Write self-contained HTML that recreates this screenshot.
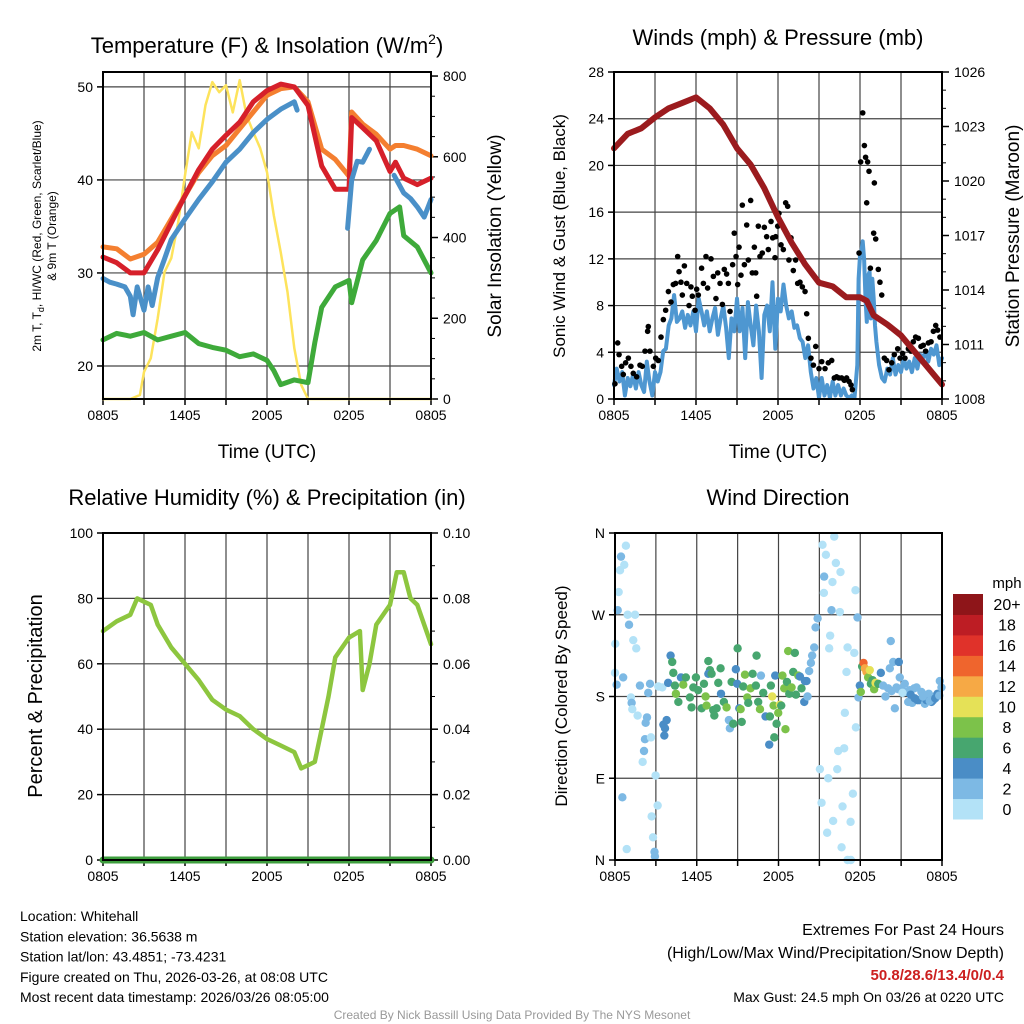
<!DOCTYPE html>
<html><head><meta charset="utf-8"><style>
html,body{margin:0;padding:0;background:#fff;width:1024px;height:1024px;overflow:hidden}
svg{display:block;font-family:"Liberation Sans",sans-serif}
</style></head><body>
<svg id="c" width="1024" height="1024" viewBox="0 0 1024 1024"></svg>
<script>
// ---------- DATA ----------
const xTickLabels = ["0805","1405","2005","0205","0805"];
// Panel 1
const tempHours = [0,1,2,3,4,5,6,7,8,9,10,11,12,13,14,15,16,17,18,18.2,19,20,21,21.4,22,23,24];
const tempRed =   [31.7,31.1,30.0,30.0,32.5,35.4,38.3,41.1,43.3,44.8,46.2,48.4,49.6,50.3,50.0,48.0,41.5,39.0,39.0,46.7,45.6,44.2,40.9,41.9,40.2,39.5,40.2];
const temp9m =    [32.8,32.6,31.5,32.0,33.3,35.8,38.3,40.8,42.6,43.7,45.5,47.3,49.1,49.8,50.0,48.4,43.3,42.2,40.4,47.3,46.0,44.9,43.3,43.7,43.7,43.3,42.6];
const hiwcHours = [0,0.5,1,1.6,2,2.2,2.5,3,3.3,3.6,4,4.5,5,6,7,8,9,10,11,12,13,14,14.2,null,17.9,18.2,18.6,19,19.5,null,21.3,22,22.5,23,23.5,24];
const hiwc =      [29.4,29,28.8,28.5,27.5,25.5,28.5,26.0,28.5,26.5,29.5,31.5,33.6,35.8,37.9,39.8,41.9,43.3,45.1,46.5,47.6,48.4,47.5,null,34.8,40.0,42.0,41.9,43.3,null,40.5,38.6,38.0,37.1,36.0,37.9];
const dewHours = [0,1,2,3,4,5,6,7,8,9,10,11,12,12.5,13,14,15,15.5,16,17,18,18.2,19,20,21,21.7,22,23,24];
const dewpt =    [22.8,23.5,23.2,23.6,22.8,23.2,23.6,22.4,22.0,21.7,21.0,21.3,20.6,19.5,18.0,18.5,18.2,22.5,26.3,28.5,29.2,26.8,31.4,33.5,36.4,37.1,34.0,32.8,30.0];
const solarHours = [0,2,2.7,3,3.5,4,4.5,5,5.5,6,6.5,7,7.5,8,8.5,9,9.5,10,10.5,11,11.5,12,12.5,13,13.5,14,14.5,15,24];
const solar =      [0,0,10,67,101,200,314,349,438,554,661,621,728,785,760,777,710,790,703,661,621,562,455,364,265,126,35,0,0];
// Panel 2
const windHours = [0,.2,.4,.6,.8,1,1.2,1.4,1.6,1.8,2,2.2,2.4,2.6,2.8,3,3.2,3.4,3.6,3.8,4,4.2,4.4,4.6,4.8,5,5.2,5.4,5.6,5.8,6,6.2,6.4,6.6,6.8,7,7.2,7.4,7.6,7.8,8,8.2,8.4,8.6,8.8,9,9.2,9.4,9.6,9.8,10,10.2,10.4,10.6,10.8,11,11.2,11.4,11.6,11.8,12,12.2,12.4,12.6,12.8,13,13.2,13.4,13.6,13.8,14,14.2,14.4,14.6,14.8,15,15.2,15.4,15.6,15.8,16,16.2,16.4,16.6,16.8,17,17.2,17.4,17.6,17.8,17.9,18,18.1,18.2,18.3,18.4,18.5,18.6,18.7,18.8,18.9,19,19.1,19.2,19.4,19.6,19.8,20,20.2,20.4,20.6,20.8,21,21.2,21.4,21.6,21.8,22,22.2,22.4,22.6,22.8,23,23.2,23.4,23.6,23.8,24];
const windSpeed = [1.2,2.6,1.5,2.3,0.3,1.8,1.1,2.1,0.9,2.3,1.2,0.6,3.2,1.5,0.3,2.3,1.5,2.3,4.1,4.3,6.3,6.9,8.9,6.6,6.9,7.5,6.1,7.2,6.3,7.5,5.8,8.6,7.5,6.3,7.5,5.8,6.9,7.8,5.5,6.9,8.0,6.1,3.5,6.9,5.8,8.6,5.8,7.8,3.5,8.3,6.3,4.6,8.0,5.8,1.8,7.2,8.0,5.8,10.0,4.3,8.6,7.5,9.8,8.0,6.9,7.5,6.1,6.3,5.2,4.9,3.5,4.6,2.3,0.9,1.8,0.1,1.8,0.3,1.2,0.1,1.5,0.3,1.2,0.3,0.9,0.3,0.1,0.3,0.1,2.9,10.3,12.3,12.6,13.5,12.0,8.6,6.6,10.6,10.9,6.9,10.3,8.6,6.3,4.9,2.9,1.8,1.5,2.6,2.1,3.5,2.1,2.9,2.3,3.5,2.6,3.2,2.3,3.5,2.6,3.8,3.5,4.1,3.2,4.3,3.8,4.6,2.9,3.5];
const gustHours = [0.07,.27,.37,.56,.68,.85,1.05,1.24,1.41,1.66,1.9,2.07,2.27,2.46,2.51,2.63,2.88,3.05,3.24,3.44,3.61,3.78,3.98,4.17,4.34,4.51,4.66,4.76,4.9,5.0,5.15,5.32,5.49,5.63,5.73,5.93,6.05,6.17,6.41,6.54,6.73,6.85,7.1,7.27,7.46,7.59,7.76,7.93,8.07,8.24,8.37,8.49,8.68,8.8,8.93,9.05,9.15,9.29,9.39,9.54,9.71,9.83,10.0,10.12,10.27,10.37,10.44,10.56,10.68,10.85,11.0,11.17,11.29,11.49,11.61,11.78,11.83,11.98,12.07,12.22,12.39,12.56,12.71,12.8,12.95,13.12,13.29,13.44,13.61,13.78,13.98,14.1,14.22,14.41,14.59,14.76,15.0,15.2,15.44,15.68,15.93,16.12,16.29,16.46,16.66,16.85,17.02,17.2,17.34,17.44,17.93,18.05,18.2,18.32,18.41,18.56,18.66,18.49,19.05,19.0,19.15,18.76,19.34,19.46,19.59,19.78,19.95,20.12,20.32,20.51,20.76,20.93,21.12,21.29,21.54,21.73,21.9,22.07,22.27,22.46,22.63,22.8,23.0,23.2,23.37,23.54,23.68,23.85];
const gustSpeed = [1.3,4.8,3.8,2.8,2.1,3.1,3.5,2.8,2.2,1.9,2.9,2.8,4.1,5.8,6.2,4.1,2.8,3.5,3.3,5.3,6.8,7.6,9.2,8.3,9.8,9.9,12.2,10.9,10.0,8.9,11.4,9.9,8.0,9.6,8.8,7.6,9.4,8.9,11.2,9.9,12.2,9.5,12.0,10.5,8.6,10.8,9.9,8.1,11.1,10.7,9.9,7.5,11.5,14.2,12.2,9.8,13.0,10.6,16.6,11.5,14.9,11.9,17.0,10.8,13.0,10.8,8.8,14.8,12.2,12.5,14.7,13.9,12.8,15.2,13.8,12.1,13.9,14.8,15.9,13.2,12.8,16.8,16.5,11.9,13.8,11.0,11.9,9.9,10.0,9.6,9.2,7.3,5.2,3.5,2.9,4.5,2.6,3.2,2.6,3.1,3.3,1.8,1.9,1.8,1.8,1.6,1.8,1.5,1.2,0.8,12.5,20.3,24.5,21.7,20.7,20.3,19.5,16.8,18.5,14.2,13.7,11.2,11.1,10.0,8.9,3.5,3.3,2.5,3.1,3.8,4.3,3.5,3.9,3.5,4.3,4.1,4.9,5.3,5.2,4.5,4.6,4.1,4.8,4.9,5.8,6.3,5.9,5.3];
const presHours = [0,1,2,3,4,5,6,7,8,9,10,11,12,13,14,15,16,17,18,18.5,19,20,21,22,23,24];
const pressure =  [1021.8,1022.6,1022.9,1023.5,1024.0,1024.3,1024.6,1024.0,1023.1,1021.8,1020.9,1019.6,1018.0,1016.6,1015.4,1014.4,1014.2,1013.6,1013.6,1013.4,1012.6,1012.1,1011.5,1010.6,1009.7,1008.8];
// Panel 3
const rhHours = [0,1,2,2.5,3,3.5,4,5,6,7,8,9,10,11,12,13,14,14.5,15,15.5,16,16.5,17,18,18.8,19,19.5,20,21,21.5,22,22.5,23,24];
const rh =      [70,73,75,80,79,78,72,65,60,55,49,46,44,40,37,35,33,28,29,30,40,50,62,68,70,52,60,72,78,88,88,80,78,66];
const precipHours = [0,24];
const precip = [0,0];
// Panel 4
const dirHours = [0.8,0.44,0.68,0.37,0.27,0.2,0.93,1.47,1.03,1.34,1.56,0.02,0,0.12,0.6,1.17,1.22,1.27,1.66,1.83,2.35,2.25,2.2,2.13,2.03,2.64,2.44,2.57,2.98,3.13,2.69,2.79,2.9,2.93,0.54,0.86,3.18,3.47,3.55,3.79,3.67,3.62,3.9,4.08,4.2,4.28,4.4,4.47,4.65,4.84,5.01,5.2,5.5,5.62,5.75,5.94,6.1,6.36,6.53,6.65,6.72,6.85,6.97,6.85,7.09,7.21,7.29,7.46,7.58,7.75,7.78,7.99,8.19,8.36,8.43,8.68,8.56,8.87,9.0,8.97,9.12,9.22,9.3,9.41,9.54,9.71,9.78,9.95,10.1,10.34,10.39,10.51,10.64,10.71,10.88,11.05,11.37,11.44,11.54,11.64,11.69,11.32,11.76,11.86,11.98,12.1,12.2,12.29,12.42,12.51,12.62,12.71,12.79,12.96,13.08,13.2,13.28,13.45,13.57,13.69,13.89,13.94,14.06,14.13,14.25,14.38,14.47,14.62,14.72,14.87,15.04,15.16,15.23,15.35,15.48,15.33,15.65,15.57,15.79,15.72,15.89,16.01,15.96,16.09,16.21,16.31,16.38,16.5,16.55,16.7,16.82,16.99,16.87,17.07,16.63,17.07,17.31,17.29,17.46,17.56,17.65,17.68,17.8,17.87,17.97,18.04,18.14,18.24,18.34,18.46,18.58,18.7,18.78,18.9,19.02,19.12,19.32,19.51,19.68,19.85,20.05,20.17,20.24,20.42,20.54,20.66,20.83,20.9,21.03,21.27,21.52,21.64,21.81,21.96,22.13,22.33,22.49,22.74,22.86,23.03,23.23,23.35,23.47,23.67,23.84,23.96,21.4,21.7,22.0,22.2,22.6,23.1,23.5,23.8,20.3,20.8,21.1];
const dirDeg = [346,334,325,319,295,275,270,270,259,242,233,238,206,193,201,179,173,166,159,192,157,151,133,120,108,135,184,194,93,60,48,25,9,4,69,12,191,190,149,154,145,137,195,225,218,206,192,183,174,201,193,201,179,168,190,201,187,167,194,180,170,219,209,205,205,165,159,167,195,211,183,174,168,154,145,150,196,210,233,194,167,166,152,191,204,179,173,189,205,192,225,174,166,203,184,158,158,192,180,170,135,127,203,150,162,171,170,203,189,144,196,230,183,190,207,228,182,203,202,189,174,197,197,180,208,217,225,234,256,266,100,63,347,312,336,294,90,30,247,233,275,43,306,356,327,100,120,273,317,59,123,207,162,234,14,0,0,42,73,228,297,146,267,179,192,185,213,217,211,207,201,209,194,198,188,195,194,206,192,180,189,211,241,218,167,190,218,201,189,194,174,187,173,189,190,176,185,172,176,183,174,176,180,183,197,190,185,182,178,176,180,175,178,181,186,188,184];
const dirSpeed = [0,2,0,0,0,2,0,0,2,0,0,0,0,2,2,0,2,0,0,2,2,2,2,2,0,0,2,2,0,0,0,0,2,2,2,0,0,0,4,4,4,4,4,4,6,6,6,8,6,4,8,6,6,6,6,6,6,6,6,8,8,6,6,4,6,6,6,6,6,6,4,6,8,2,2,6,6,4,6,4,4,8,6,6,8,8,6,8,6,6,6,6,8,2,6,4,6,6,10,8,6,4,4,6,8,10,6,8,8,8,6,8,6,8,6,6,6,8,4,6,4,4,4,2,2,2,2,2,2,2,0,0,0,2,0,0,0,0,0,0,2,0,0,0,0,0,0,0,0,0,0,0,0,0,0,0,0,0,0,0,0,0,2,2,4,8,6,14,12,12,8,10,6,6,8,10,6,4,2,2,2,2,2,2,2,2,4,2,2,2,2,2,2,2,2,4,2,2,4,2,4,4,2,4,2,2,2,4,4,4,2,2,4,2,2,2];
const speedBins = ["0","2","4","6","8","10","12","14","16","18","20+"];
const speedColors = ["#b3e2f7","#7db9e4","#4a8dc6","#47a66f","#7cc24a","#e5e157","#f6a945","#ef652d","#e0322a","#bd1d24","#8e1519"];

// ---------- DRAW ----------
const NS="http://www.w3.org/2000/svg";
const svg=document.getElementById('c');
function el(tag,attrs,parent,text){const e=document.createElementNS(NS,tag);for(const k in attrs)e.setAttribute(k,attrs[k]);if(text!==undefined)e.textContent=text;(parent||svg).appendChild(e);return e;}
function lin(d0,d1,r0,r1){return v=>r0+(v-d0)/(d1-d0)*(r1-r0);}
function txt(x,y,s,size,opts,parent){const o=Object.assign({x:x,y:y,'font-size':size,fill:'#000'},opts||{});return el('text',o,parent,s);}
function pathD(xs,ys,sx,sy){let d='',pen=false;for(let i=0;i<xs.length;i++){if(xs[i]===null||ys[i]===null){pen=false;continue;}d+=(pen?'L':'M')+sx(xs[i]).toFixed(1)+','+sy(ys[i]).toFixed(1);pen=true;}return d;}

function panel(name,X0,X1,Y0,Y1,leftTicks,leftLabels,lsy,rightTicks,rightLabels,rsy,rightMinor){
  const g=el('g',{},svg);
  
  
  const sx=lin(0,24,X0,X1);
  const grid=el('g',{stroke:'#444','stroke-width':1.2},g);
  
  
  for(let h=3;h<24;h+=3)el('line',{x1:sx(h),x2:sx(h),y1:Y0,y2:Y1},grid);
  leftTicks.forEach(v=>{const y=lsy(v);if(y>Y0+1&&y<Y1-1)el('line',{x1:X0,x2:X1,y1:y,y2:y},grid);});
  // x ticks
  const xa=el('g',{},g);
  
  
  for(let h=0;h<=24;h+=3)el('line',{x1:sx(h),x2:sx(h),y1:Y1,y2:Y1+6,stroke:'#000','stroke-width':1.5},xa);
  xTickLabels.forEach((s,i)=>txt(sx(i*6),Y1+21,s,14,{'text-anchor':'middle'},xa));
  const ya=el('g',{},g);
  
  
  leftTicks.forEach((v,i)=>{el('line',{x1:X0-6,x2:X0,y1:lsy(v),y2:lsy(v),stroke:'#000','stroke-width':1.5},ya);txt(X0-10,lsy(v)+5,leftLabels[i],14,{'text-anchor':'end'},ya);});
  if(rightTicks){const ra=el('g',{},g);
    
    
    (rightMinor||[]).forEach(v=>el('line',{x1:X1,x2:X1+4,y1:rsy(v),y2:rsy(v),stroke:'#000','stroke-width':1},ra));
    rightTicks.forEach((v,i)=>{el('line',{x1:X1,x2:X1+7,y1:rsy(v),y2:rsy(v),stroke:'#000','stroke-width':1.5},ra);txt(X1+12,rsy(v)+5,rightLabels[i],14,{'text-anchor':'start'},ra);});}
  return {g,sx};
}
function frame(g,X0,X1,Y0,Y1){const f=el('rect',{x:X0,y:Y0,width:X1-X0,height:Y1-Y0,fill:'none',stroke:'#000','stroke-width':2},g);}
function series(g,name,xs,ys,sx,sy,color,w){const p=el('path',{d:pathD(xs,ys,sx,sy),fill:'none',stroke:color,'stroke-width':w,'stroke-linejoin':'round','stroke-linecap':'round'},g);return p;}
function rotLabel(x,y,s,size,name){const t=txt(x,y,s,size,{'text-anchor':'middle',transform:'rotate(-90 '+x+' '+y+')'});return t;}
function title(x,y,s,name,size){const t=txt(x,y,s,size||22,{'text-anchor':'middle'});return t;}

// Panel 1
{const X0=103,X1=431,Y0=72,Y1=399;
 const ly=lin(16.45,51.6,Y1,Y0), ry=lin(0,810,Y1,Y0);
 const minor=[];for(let v=50;v<=800;v+=50)if(v%200)minor.push(v);
 const P=panel('temperature-panel',X0,X1,Y0,Y1,[20,30,40,50],["20","30","40","50"],ly,[0,200,400,600,800],["0","200","400","600","800"],ry,minor);
 series(P.g,'solar-insolation-line',solarHours,solar,P.sx,ry,'#fde35c',2.5);
 series(P.g,'temp-9m-line',tempHours,temp9m,P.sx,ly,'#f47f30',5);
 series(P.g,'temp-2m-line',tempHours,tempRed,P.sx,ly,'#d6202a',5);
 series(P.g,'heat-index-windchill-line',hiwcHours,hiwc,P.sx,ly,'#4a90c8',5);
 series(P.g,'dewpoint-line',dewHours,dewpt,P.sx,ly,'#3eaa3a',5);
 frame(P.g,X0,X1,Y0,Y1);
 const t=txt(267,53,'Temperature (F) & Insolation (W/m',22,{'text-anchor':'middle'});
 el('tspan',{'font-size':14,dy:-9},t,'2');el('tspan',{dy:9},t,')');
 title(267,458,'Time (UTC)','temperature-x-axis-title',19);
 const l1=txt(41,236,'',12,{'text-anchor':'middle',transform:'rotate(-90 41 236)'});
 el('tspan',{},l1,'2m T, T');el('tspan',{'font-size':9,dy:3},l1,'d');el('tspan',{dy:-3},l1,', HI/WC (Red, Green, Scarlet/Blue)');
 rotLabel(56,236,'& 9m T (Orange)',12,'temperature-y-axis-title-2');
 rotLabel(501,236,'Solar Insolation (Yellow)',19,'insolation-axis-title');
}
// Panel 2
{const X0=614,X1=942,Y0=72,Y1=399;
 const ly=lin(0,28,Y1,Y0), ry=lin(1008,1026,Y1,Y0);
 const minor=[];for(let v=1009;v<1026;v++)if((v-1008)%3)minor.push(v);
 const P=panel('wind-panel',X0,X1,Y0,Y1,[0,4,8,12,16,20,24,28],["0","4","8","12","16","20","24","28"],ly,[1008,1011,1014,1017,1020,1023,1026],["1008","1011","1014","1017","1020","1023","1026"],ry,minor);
 series(P.g,'sonic-wind-line',windHours,windSpeed,P.sx,ly,'#4e97d1',4);
 const gg=el('g',{fill:'#000'},P.g);
 gustHours.forEach((h,i)=>{const c=el('circle',{cx:P.sx(h),cy:ly(gustSpeed[i]),r:2.8},gg);});
 series(P.g,'pressure-line',presHours,pressure,P.sx,ry,'#9b1b1e',6);
 frame(P.g,X0,X1,Y0,Y1);
 title(778,45,'Winds (mph) & Pressure (mb)','wind-title');
 title(778,458,'Time (UTC)','wind-x-axis-title',19);
 rotLabel(565,236,'Sonic Wind & Gust (Blue, Black)',17,'wind-y-axis-title');
 rotLabel(1019,236,'Station Pressure (Maroon)',19,'pressure-axis-title');
}
// Panel 3
{const X0=103,X1=431,Y0=533,Y1=860;
 const ly=lin(0,100,Y1,Y0), ry=lin(0,0.1,Y1,Y0);
 const P=panel('humidity-panel',X0,X1,Y0,Y1,[0,20,40,60,80,100],["0","20","40","60","80","100"],ly,[0,0.02,0.04,0.06,0.08,0.1],["0.00","0.02","0.04","0.06","0.08","0.10"],ry,[0.01,0.03,0.05,0.07,0.09]);
 series(P.g,'relative-humidity-line',rhHours,rh,P.sx,ly,'#8dc63f',4.5);
 series(P.g,'precipitation-line',precipHours,precip,P.sx,ry,'#3e9e3e',7);
 frame(P.g,X0,X1,Y0,Y1);
 title(267,505,'Relative Humidity (%) & Precipitation (in)','humidity-title');
 rotLabel(42,696,'Percent & Precipitation',20,'humidity-y-axis-title');
}
// Panel 4
{const X0=615,X1=942,Y0=533,Y1=860;
 const ly=lin(0,360,Y1,Y0);
 const P=panel('direction-panel',X0,X1,Y0,Y1,[0,90,180,270,360],["N","E","S","W","N"],ly,null,null,null);
 const dg=el('g',{},P.g);
 dirHours.forEach((h,i)=>{const c=el('circle',{cx:P.sx(h),cy:ly(dirDeg[i]),r:4.2,fill:speedColors[dirSpeed[i]/2|0]},dg);});
 frame(P.g,X0,X1,Y0,Y1);
 title(778,505,'Wind Direction','direction-title');
 rotLabel(567,696,'Direction (Colored By Speed)',17,'direction-y-axis-title');
 const cb=el('g',{},svg);
 const cy0=594,cy1=819,n=speedBins.length,ch=(cy1-cy0)/n;
 for(let i=0;i<n;i++){const y=cy1-(i+1)*ch;el('rect',{x:953,y:y,width:30,height:ch+0.5,fill:speedColors[i]},cb);txt(1007,y+ch/2+6,speedBins[i],16,{'text-anchor':'middle'},cb);}
 txt(1007,588,'mph',15,{'text-anchor':'middle'},cb);
}
// Footer
{const f=el('g',{},svg);
 ["Location: Whitehall","Station elevation: 36.5638 m","Station lat/lon: 43.4851; -73.4231","Figure created on Thu, 2026-03-26, at 08:08 UTC","Most recent data timestamp: 2026/03/26 08:05:00"].forEach((s,i)=>txt(20,921+i*20.3,s,14,{},f));
 const e=el('g',{},svg);
 txt(1004,935,'Extremes For Past 24 Hours',16,{'text-anchor':'end'},e);
 txt(1004,958,'(High/Low/Max Wind/Precipitation/Snow Depth)',16,{'text-anchor':'end'},e);
 txt(1004,980,'50.8/28.6/13.4/0/0.4',15,{'text-anchor':'end',fill:'#cc1f1f','font-weight':'bold'},e);
 txt(1004,1002,'Max Gust: 24.5 mph On 03/26 at 0220 UTC',14,{'text-anchor':'end'},e);
 const cr=txt(512,1019,'Created By Nick Bassill Using Data Provided By The NYS Mesonet',12,{'text-anchor':'middle',fill:'#999'});
}
</script>
</body></html>
